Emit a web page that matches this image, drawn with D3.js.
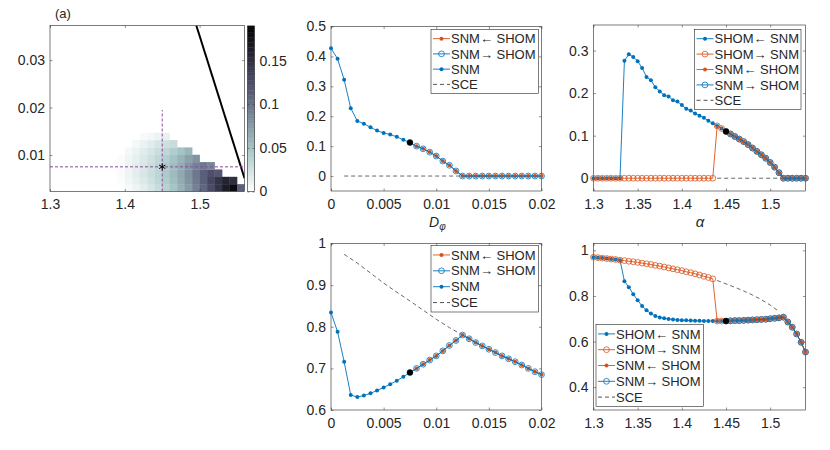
<!DOCTYPE html>
<html><head><meta charset="utf-8">
<script src="https://cdn.jsdelivr.net/npm/d3@7"></script>
<style>body{margin:0;background:#fff} svg text{font-family:"Liberation Sans",Arial,Helvetica,sans-serif}</style>
</head><body><svg id="c" width="830" height="450"></svg>
<script>
// ---------------- DATA ----------------
// Panel (a) heat map: column left edges (alpha), row bottom edges (D_phi)
const heatAlpha = [1.39,1.40,1.41,1.42,1.43,1.44,1.45,1.46,1.47,1.48,1.49,1.50,1.51,1.52,1.53,1.54,1.55];
const heatAlphaStep = 0.01;
const heatD = [0.0023,0.00385,0.0054,0.00695,0.0085,0.01005,0.0116,0.01315];
const heatDStep = 0.00155;
const heatValues = [
  [null,.004,.009,.015,.022,.030,.039,.049,.061,.075,.091,.108,.126,.145,.166,.180,.112],
  [.002,.008,.013,.019,.026,.034,.043,.053,.065,.079,.095,.112,.130,.146,.160,.150],
  [.003,.009,.015,.021,.028,.036,.045,.055,.067,.081,.097,.112,.124,.118],
  [.003,.009,.015,.021,.028,.036,.045,.054,.065,.078,.090,.096,.088],
  [.002,.008,.013,.019,.026,.033,.041,.050,.060,.071,.080],
  [null,.006,.011,.016,.022,.028,.035,.042,.050,.058],
  [null,null,.006,.011,.016,.022,.027,.030],
  [null,null,null,.004,.007,.010,.012]
];
const heatMax = 0.19;
const heatBoundary = [[1.4956,0.0373],[1.56,0.0051]];   // black line
const heatStar = [1.45, 0.0075];
const heatVLineTop = 0.0195;
const heatXTicks = [1.3,1.4,1.5], heatYTicks = [0.01,0.02,0.03], cbTicks = [0,0.05,0.1,0.15];

// D_phi panels
const dSNM = [0,0.000625,0.00125,0.001875,0.0025,0.003125,0.00375,0.004375,0.005,0.005625,0.00625,0.006875,0.0075];
const dBist = [0.0075,0.008125,0.00875,0.009375,0.01,0.010625,0.01125,0.011875,0.0125,0.013125,0.01375,0.014375,0.015,0.015625,0.01625,0.016875,0.0175,0.018125,0.01875,0.019375,0.02];
const topSNM = [0.427,0.392,0.322,0.227,0.184,0.175,0.163,0.152,0.144,0.139,0.131,0.121,0.112];
const topBist = [0.112,0.100,0.091,0.080,0.067,0.050,0.036,0.017,0,0,0,0,0,0,0,0,0,0,0,0,0];
const dSCE = [0.00125,0.0025,0.00375,0.005,0.00625,0.0075,0.00875,0.01,0.01125,0.0125,0.01375,0.015,0.01625,0.0175,0.01875,0.02];
const topSCE = [0,0,0,0,0,0,0,0,0,0,0,0,0,0,0,0];
const botSNM = [0.834,0.788,0.716,0.636,0.631,0.635,0.640,0.647,0.654,0.662,0.670,0.680,0.690];
const botBist = [0.690,0.700,0.710,0.720,0.730,0.742,0.755,0.767,0.780,0.771,0.762,0.754,0.746,0.738,0.730,0.723,0.716,0.708,0.700,0.692,0.685];
const botSCE = [0.974,0.953,0.929,0.905,0.883,0.862,0.840,0.818,0.798,0.780,0.762,0.746,0.730,0.716,0.700,0.685];
const dMark = 0.0075, topMark = 0.112, botMark = 0.690;
const dTicks = [0,0.005,0.01,0.015,0.02];

// alpha panels
const alphaGrid = [1.300,1.305,1.310,1.315,1.320,1.325,1.330,1.335,1.340,1.345,1.350,1.355,1.360,1.365,1.370,1.375,1.380,1.385,1.390,1.395,1.400,1.405,1.410,1.415,1.420,1.425,1.430,1.435,1.440,1.445,1.450,1.455,1.460,1.465,1.470,1.475,1.480,1.485,1.490,1.495,1.500,1.505,1.510,1.515,1.520,1.525,1.530,1.535,1.540];
const topShomFromSnm = [0,0,0,0,0,0,0,0.276,0.291,0.285,0.275,0.259,0.238,0.230,0.214,0.204,0.195,0.192,0.183,0.180,0.172,0.163,0.159,0.152,0.147,0.142,0.135,0.129,0.123,0.117,0.110,0.104,0.098,0.092,0.086,0.079,0.071,0.063,0.055,0.047,0.037,0.026,0.013,0,0,0,0,0,0];
const topShomToSnm = [0,0,0,0,0,0,0,0,0,0,0,0,0,0,0,0,0,0,0,0,0,0,0,0,0,0,0,0,0.123,0.117,0.110,0.104,0.098,0.092,0.086,0.079,0.071,0.063,0.055,0.047,0.037,0.026,0.013,0,0,0,0,0,0];
const alphaSNM = [1.450,1.455,1.460,1.465,1.470,1.475,1.480,1.485,1.490,1.495,1.500,1.505,1.510,1.515,1.520,1.525,1.530,1.535,1.540];
const topSNMa = [0.110,0.104,0.098,0.092,0.086,0.079,0.071,0.063,0.055,0.047,0.037,0.026,0.013,0,0,0,0,0,0];
const alphaSCE = [1.44,1.45,1.46,1.47,1.48,1.49,1.50,1.51,1.52,1.53,1.54];
const topSCEa = [0,0,0,0,0,0,0,0,0,0,0];
const botShomFromSnm = [0.970,0.968,0.966,0.964,0.962,0.960,0.957,0.865,0.838,0.808,0.781,0.756,0.737,0.723,0.712,0.706,0.702,0.699,0.697,0.695,0.694,0.693,0.692,0.691,0.691,0.690,0.690,0.690,0.690,0.690,0.690,0.691,0.692,0.692,0.693,0.694,0.695,0.696,0.697,0.698,0.700,0.702,0.704,0.707,0.686,0.663,0.633,0.597,0.554];
const botShomToSnm = [0.970,0.968,0.966,0.964,0.962,0.960,0.957,0.955,0.952,0.950,0.947,0.944,0.941,0.938,0.934,0.931,0.927,0.923,0.919,0.915,0.911,0.906,0.902,0.897,0.892,0.886,0.881,0.875,0.690,0.690,0.690,0.691,0.692,0.692,0.693,0.694,0.695,0.696,0.697,0.698,0.700,0.702,0.704,0.707,0.686,0.663,0.633,0.597,0.554];
const botSNMa = [0.690,0.691,0.692,0.692,0.693,0.694,0.695,0.696,0.697,0.698,0.700,0.702,0.704,0.707,0.686,0.663,0.633,0.597,0.554];
const alphaSCEb = [1.44,1.45,1.46,1.47,1.48,1.49,1.50,1.51];
const botSCEa = [0.868,0.853,0.838,0.822,0.804,0.784,0.760,0.732];
const aMark = 1.45, aTopMark = 0.110, aBotMark = 0.690;
const aTicks = [1.3,1.35,1.4,1.45,1.5];

// ---------------- DRAW ----------------
const svg = d3.select('#c');
const INK = '#262626', BLUE = '#0072BD', ORANGE = '#D95319', SCEC = '#404040';
const FONT = '"Liberation Sans",Arial,Helvetica,sans-serif';
let clipN = 0;
const fmt = d3.format('~g');

function makeAxes(box, xd, yd, xt, yt) {
  const x = d3.scaleLinear().domain(xd).range([box.l, box.r]);
  const y = d3.scaleLinear().domain(yd).range([box.b, box.t]);
  const id = 'clip' + (clipN++);
  svg.append('clipPath').attr('id', id).append('rect')
    .attr('x', box.l).attr('y', box.t).attr('width', box.r - box.l).attr('height', box.b - box.t);
  const clip = svg.append('g').attr('clip-path', `url(#${id})`);
  const axg = svg.append('g');
  axg.append('g').attr('transform', `translate(0,${box.b})`)
    .call(d3.axisBottom(x).tickValues(xt).tickFormat(fmt).tickSizeInner(-2.5).tickSizeOuter(0).tickPadding(8));
  axg.append('g').attr('transform', `translate(0,${box.t})`)
    .call(d3.axisTop(x).tickValues(xt).tickFormat('').tickSizeInner(-2.5).tickSizeOuter(0));
  axg.append('g').attr('transform', `translate(${box.l},0)`)
    .call(d3.axisLeft(y).tickValues(yt).tickFormat(fmt).tickSizeInner(-2.5).tickSizeOuter(0).tickPadding(5));
  axg.append('g').attr('transform', `translate(${box.r},0)`)
    .call(d3.axisRight(y).tickValues(yt).tickFormat('').tickSizeInner(-2.5).tickSizeOuter(0));
  axg.selectAll('.domain').remove();
  axg.selectAll('g').attr('font-size', 14).attr('font-family', FONT);
  axg.selectAll('.tick line').attr('stroke', INK).attr('stroke-width', 0.5);
  axg.selectAll('.tick text').attr('fill', INK);
  axg.append('rect').attr('x', box.l).attr('y', box.t).attr('width', box.r - box.l).attr('height', box.b - box.t)
    .attr('fill', 'none').attr('stroke', INK).attr('stroke-width', 0.6);
  const plot = svg.append('g');
  return {x, y, clip, plot, box};
}

function marker(g, cx, cy, type, color) {
  if (type === 'dot') g.append('circle').attr('cx', cx).attr('cy', cy).attr('r', 2).attr('fill', color);
  else if (type === 'circle') g.append('circle').attr('cx', cx).attr('cy', cy).attr('r', 2.9)
    .attr('fill', 'none').attr('stroke', color).attr('stroke-width', 0.8);
}

function series(ax, xs, ys, s) {
  const pts = xs.map((d, i) => [d, ys[i]]);
  ax.plot.append('path').datum(pts)
    .attr('d', d3.line().x(d => ax.x(d[0])).y(d => ax.y(d[1])))
    .attr('fill', 'none').attr('stroke', s.color).attr('stroke-width', s.dash ? 0.8 : 0.9)
    .attr('stroke-dasharray', s.dash || null);
  if (s.marker) pts.forEach(p => marker(ax.plot, ax.x(p[0]), ax.y(p[1]), s.marker, s.color));
}

function blackDot(ax, xv, yv) {
  ax.plot.append('circle').attr('cx', ax.x(xv)).attr('cy', ax.y(yv)).attr('r', 3).attr('fill', '#000');
}

function legend(b, items) {
  const g = svg.append('g');
  g.append('rect').attr('x', b.l).attr('y', b.t).attr('width', b.w).attr('height', b.h)
    .attr('fill', '#fff').attr('stroke', INK).attr('stroke-width', 0.6);
  const pad = 1.5, rh = (b.h - 2 * pad) / items.length;
  items.forEach((it, i) => {
    const cy = b.t + pad + rh * (i + 0.5);
    g.append('line').attr('x1', b.l + 2).attr('x2', b.l + 19).attr('y1', cy).attr('y2', cy)
      .attr('stroke', it.color).attr('stroke-width', 0.9).attr('stroke-dasharray', it.dash || null);
    if (it.marker) marker(g, b.l + 10.5, cy, it.marker, it.color);
    g.append('text').attr('x', b.l + 20).attr('y', cy).attr('dy', '0.36em')
      .attr('font-size', 13).attr('fill', INK).attr('font-family', FONT).text(it.label);
  });
}

const S = {
  snmFromShom: {label: 'SNM\u2190 SHOM', color: ORANGE, marker: 'dot'},
  snmToShom:   {label: 'SNM\u2192 SHOM', color: BLUE, marker: 'circle'},
  snm:         {label: 'SNM', color: BLUE, marker: 'dot'},
  sce:         {label: 'SCE', color: SCEC, dash: '4,3'},
  shomFromSnm: {label: 'SHOM\u2190 SNM', color: BLUE, marker: 'dot'},
  shomToSnm:   {label: 'SHOM\u2192 SNM', color: ORANGE, marker: 'circle'}
};

// ---- Panel (a) ----
{
  const ax = makeAxes({l: 50, r: 244.5, t: 25.5, b: 191.5}, [1.3, 1.56], [0.0023, 0.0373], heatXTicks, heatYTicks);
  const tScale = d3.scaleLinear().domain([0, heatMax]).range([1, 0]).clamp(true);
  const boneR = v => {
    const t = tScale(v);
    const hr = Math.min(1, t / 0.375), hg = Math.max(0, Math.min(1, (t - 0.375) / 0.375)), hb = Math.max(0, Math.min(1, (t - 0.75) / 0.25));
    return d3.rgb(255 * (7 * t + hb) / 8, 255 * (7 * t + hg) / 8, 255 * (7 * t + hr) / 8).toString();
  };
  const cells = [];
  heatValues.forEach((row, r) => row.forEach((v, c) => { if (v != null) cells.push({a: heatAlpha[c], d: heatD[r], v}); }));
  ax.clip.selectAll('rect.cell').data(cells).enter().append('rect').attr('class', 'cell')
    .attr('x', d => ax.x(d.a)).attr('y', d => ax.y(d.d + heatDStep))
    .attr('width', d => ax.x(d.a + heatAlphaStep) - ax.x(d.a) + 0.3)
    .attr('height', d => ax.y(d.d) - ax.y(d.d + heatDStep) + 0.3)
    .attr('fill', d => boneR(d.v));
  ax.clip.append('path').datum(heatBoundary).attr('d', d3.line().x(d => ax.x(d[0])).y(d => ax.y(d[1])))
    .attr('stroke', '#000').attr('stroke-width', 2).attr('fill', 'none');
  const PURP = '#8E4A9E';
  ax.clip.append('line').attr('x1', ax.x(heatStar[0])).attr('x2', ax.x(heatStar[0]))
    .attr('y1', ax.y(0.0023)).attr('y2', ax.y(heatVLineTop))
    .attr('stroke', PURP).attr('stroke-width', 1).attr('stroke-dasharray', '3,2');
  ax.clip.append('line').attr('x1', ax.x(1.3)).attr('x2', ax.x(1.56))
    .attr('y1', ax.y(heatStar[1])).attr('y2', ax.y(heatStar[1]))
    .attr('stroke', PURP).attr('stroke-width', 1).attr('stroke-dasharray', '3,2');
  ax.plot.append('path').attr('d', d3.symbol(d3.symbolAsterisk, 36)())
    .attr('transform', `translate(${ax.x(heatStar[0])},${ax.y(heatStar[1])})`)
    .attr('stroke', '#000').attr('stroke-width', 1).attr('fill', 'none');
  svg.append('text').attr('x', 55).attr('y', 18).attr('font-size', 13).attr('fill', INK).attr('font-family', FONT).text('(a)');

  // colorbar
  const cb = {l: 247.5, r: 254.5, t: 26, b: 191.5};
  const cy = d3.scaleLinear().domain([0, heatMax]).range([cb.b, cb.t]);
  const steps = d3.range(0, 100).map(i => heatMax * i / 100);
  svg.append('g').selectAll('rect').data(steps).enter().append('rect')
    .attr('x', cb.l).attr('width', cb.r - cb.l)
    .attr('y', d => cy(d + heatMax / 100) - 0.2).attr('height', d => cy(d) - cy(d + heatMax / 100) + 0.4)
    .attr('fill', d => boneR(d + heatMax / 200));
  const cbg = svg.append('g');
  cbg.append('g').attr('transform', `translate(${cb.r},0)`)
    .call(d3.axisRight(cy).tickValues(cbTicks).tickFormat(fmt).tickSizeInner(-2).tickSizeOuter(0).tickPadding(5));
  cbg.append('g').attr('transform', `translate(${cb.l},0)`)
    .call(d3.axisLeft(cy).tickValues(cbTicks).tickFormat('').tickSizeInner(-2).tickSizeOuter(0));
  cbg.selectAll('.domain').remove();
  cbg.selectAll('g').attr('font-size', 14).attr('font-family', FONT);
  cbg.selectAll('.tick line').attr('stroke', INK).attr('stroke-width', 0.5);
  cbg.selectAll('.tick text').attr('fill', INK);
  cbg.append('rect').attr('x', cb.l).attr('y', cb.t).attr('width', cb.r - cb.l).attr('height', cb.b - cb.t)
    .attr('fill', 'none').attr('stroke', INK).attr('stroke-width', 0.6);
}

// ---- Top middle (D_phi) ----
{
  const ax = makeAxes({l: 331, r: 541.5, t: 26.5, b: 191}, [0, 0.02], [-0.05, 0.5], dTicks, [0, 0.1, 0.2, 0.3, 0.4, 0.5]);
  series(ax, dSCE, topSCE, S.sce);
  series(ax, dSNM, topSNM, S.snm);
  series(ax, dBist, topBist, S.snmFromShom);
  series(ax, dBist, topBist, S.snmToShom);
  blackDot(ax, dMark, topMark);
  legend({l: 431, t: 29.5, w: 107.5, h: 64}, [S.snmFromShom, S.snmToShom, S.snm, S.sce]);
  const t = svg.append('text').attr('x', 429).attr('y', 227)
    .attr('font-size', 14).attr('fill', INK).attr('font-family', FONT);
  t.append('tspan').attr('font-style', 'italic').text('D');
  t.append('tspan').attr('font-style', 'italic').attr('font-size', 10).attr('dy', 3).text('\u03C6');
}

// ---- Top right (alpha) ----
{
  const ax = makeAxes({l: 593.5, r: 805.5, t: 25, b: 191}, [1.3, 1.54], [-0.03, 0.36], aTicks, [0, 0.1, 0.2, 0.3]);
  series(ax, alphaSCE, topSCEa, S.sce);
  series(ax, alphaGrid, topShomFromSnm, S.shomFromSnm);
  series(ax, alphaGrid, topShomToSnm, S.shomToSnm);
  series(ax, alphaSNM, topSNMa, S.snmFromShom);
  series(ax, alphaSNM, topSNMa, S.snmToShom);
  blackDot(ax, aMark, aTopMark);
  legend({l: 694.5, t: 29.5, w: 106.5, h: 80}, [S.shomFromSnm, S.shomToSnm, S.snmFromShom, S.snmToShom, S.sce]);
  svg.append('text').attr('x', 700).attr('y', 227).attr('text-anchor', 'middle').attr('font-style', 'italic')
    .attr('font-size', 15).attr('fill', INK).attr('font-family', FONT).text('\u03B1');
}

// ---- Bottom middle ----
{
  const ax = makeAxes({l: 331, r: 541.5, t: 243.5, b: 410}, [0, 0.02], [0.6, 1], dTicks, [0.6, 0.7, 0.8, 0.9, 1]);
  series(ax, dSCE, botSCE, S.sce);
  series(ax, dSNM, botSNM, S.snm);
  series(ax, dBist, botBist, S.snmFromShom);
  series(ax, dBist, botBist, S.snmToShom);
  blackDot(ax, dMark, botMark);
  legend({l: 431, t: 245.5, w: 107.5, h: 66.5}, [S.snmFromShom, S.snmToShom, S.snm, S.sce]);
}

// ---- Bottom right ----
{
  const ax = makeAxes({l: 593.5, r: 805.5, t: 243.5, b: 410}, [1.3, 1.54], [0.3, 1.03], aTicks, [0.4, 0.6, 0.8, 1]);
  series(ax, alphaSCEb, botSCEa, S.sce);
  series(ax, alphaGrid, botShomFromSnm, S.shomFromSnm);
  series(ax, alphaGrid, botShomToSnm, S.shomToSnm);
  series(ax, alphaSNM, botSNMa, S.snmFromShom);
  series(ax, alphaSNM, botSNMa, S.snmToShom);
  blackDot(ax, aMark, aBotMark);
  legend({l: 596, t: 324.5, w: 107.5, h: 82}, [S.shomFromSnm, S.shomToSnm, S.snmFromShom, S.snmToShom, S.sce]);
}
</script></body></html>
